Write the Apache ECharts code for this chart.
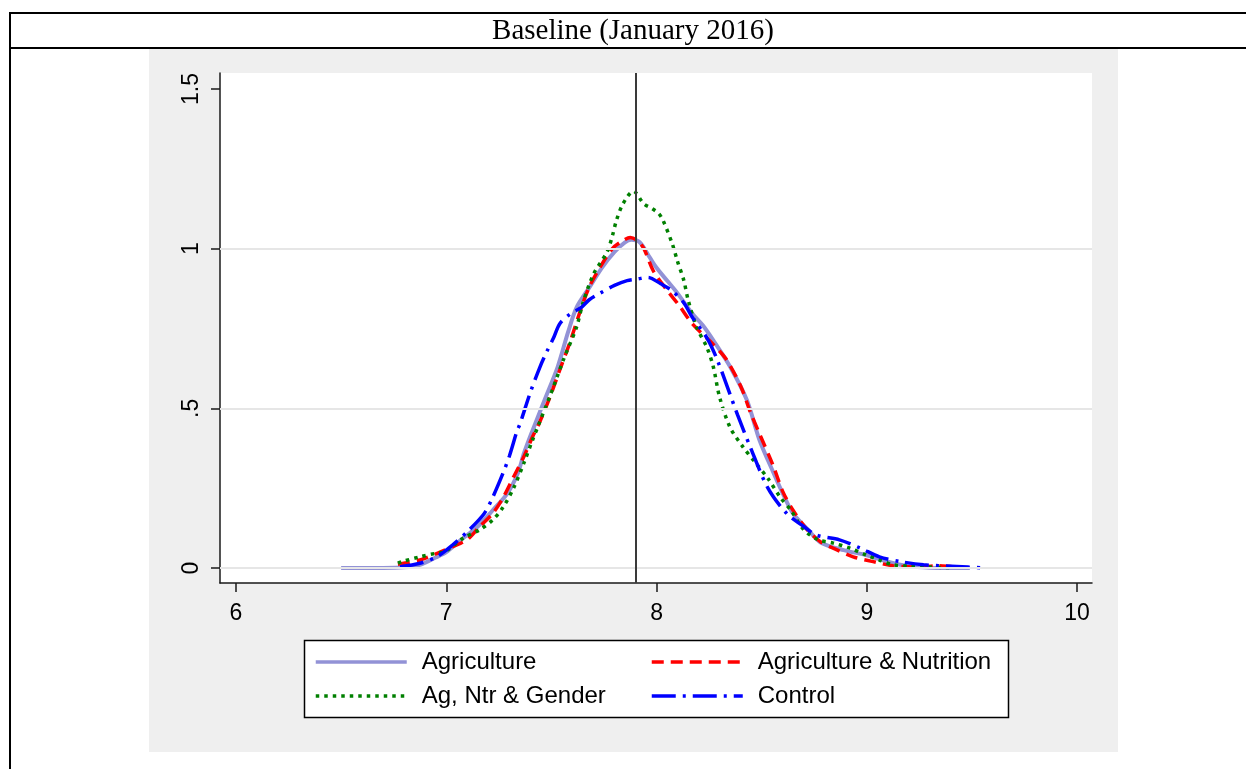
<!DOCTYPE html>
<html>
<head>
<meta charset="utf-8" />
<title>Baseline (January 2016)</title>
<script src="https://cdn.jsdelivr.net/npm/echarts@6/dist/echarts.min.js"></script>
<style>
  html, body { margin: 0; padding: 0; background: #fff; }
  #chart { width: 1246px; height: 769px; }
</style>
</head>
<body>
<div id="chart"></div>
<script>
// kernel densities, [x, density]
const agriculture = [
  [6.5, 0], [6.6, 0], [6.7, 0], [6.8, 0.002], [6.875, 0.01], [6.95, 0.033],
  [7.0, 0.05], [7.07, 0.088], [7.15, 0.13], [7.22, 0.18], [7.29, 0.233],
  [7.34, 0.296], [7.37, 0.36], [7.41, 0.43], [7.47, 0.53], [7.53, 0.63],
  [7.58, 0.74], [7.62, 0.816], [7.68, 0.878], [7.74, 0.94], [7.8, 0.99],
  [7.85, 1.02], [7.88, 1.028], [7.92, 1.02], [7.97, 0.97], [8.0, 0.94],
  [8.05, 0.9], [8.1, 0.86], [8.17, 0.797], [8.22, 0.76], [8.27, 0.713],
  [8.35, 0.63], [8.43, 0.525], [8.49, 0.4], [8.555, 0.3], [8.61, 0.22],
  [8.65, 0.17], [8.72, 0.12], [8.78, 0.08], [8.89, 0.056], [9.0, 0.04],
  [9.1, 0.02], [9.2, 0.005], [9.3, 0.001], [9.49, 0]
];
const agNutrition = [
  [6.77, 0.012], [6.875, 0.025], [6.97, 0.05], [7.07, 0.078], [7.1, 0.088],
  [7.16, 0.13], [7.22, 0.17], [7.27, 0.22], [7.32, 0.285], [7.37, 0.35],
  [7.41, 0.41], [7.44, 0.45], [7.49, 0.53], [7.54, 0.62], [7.59, 0.71],
  [7.64, 0.81], [7.68, 0.88], [7.73, 0.94], [7.79, 1.0], [7.84, 1.025],
  [7.875, 1.035], [7.91, 1.025], [7.94, 1.0], [7.985, 0.93], [8.05, 0.87],
  [8.11, 0.82], [8.17, 0.765], [8.27, 0.7], [8.33, 0.655], [8.4, 0.57],
  [8.445, 0.49], [8.49, 0.42], [8.555, 0.32], [8.6, 0.24], [8.65, 0.18],
  [8.716, 0.12], [8.78, 0.082], [8.84, 0.062], [8.935, 0.035], [9.03, 0.02],
  [9.125, 0.007], [9.25, 0.003], [9.33, 0.007], [9.4, 0.005], [9.45, 0.003]
];
const agNtrGender = [
  [6.77, 0.015], [6.79, 0.02], [6.875, 0.035], [6.95, 0.046], [6.99, 0.05],
  [7.08, 0.093], [7.16, 0.12], [7.22, 0.15], [7.27, 0.19], [7.32, 0.25],
  [7.37, 0.33], [7.41, 0.4], [7.44, 0.45], [7.5, 0.55], [7.556, 0.65],
  [7.62, 0.755], [7.65, 0.83], [7.7, 0.92], [7.765, 0.99], [7.79, 1.04],
  [7.81, 1.09], [7.84, 1.14], [7.89, 1.18], [7.94, 1.14], [7.98, 1.125],
  [8.01, 1.11], [8.03, 1.09], [8.075, 1.015], [8.1, 0.96], [8.13, 0.9],
  [8.15, 0.84], [8.19, 0.755], [8.24, 0.69], [8.27, 0.63], [8.3, 0.535],
  [8.35, 0.44], [8.41, 0.38], [8.47, 0.33], [8.53, 0.28], [8.59, 0.22],
  [8.64, 0.18], [8.7, 0.12], [8.77, 0.088], [8.84, 0.078], [8.92, 0.062],
  [9.0, 0.04], [9.06, 0.025], [9.125, 0.01], [9.2, 0.006], [9.3, 0.003],
  [9.4, 0.001]
];
const control = [
  [6.78, 0.004], [6.875, 0.015], [6.955, 0.035], [7.03, 0.072], [7.11, 0.12],
  [7.18, 0.17], [7.22, 0.22], [7.27, 0.297], [7.3, 0.35], [7.337, 0.43],
  [7.35, 0.45], [7.4, 0.55], [7.446, 0.63], [7.48, 0.68], [7.51, 0.72],
  [7.54, 0.765], [7.59, 0.796], [7.64, 0.815], [7.68, 0.84], [7.73, 0.86],
  [7.8, 0.885], [7.86, 0.9], [7.91, 0.905], [7.96, 0.91], [8.02, 0.89],
  [8.07, 0.87], [8.13, 0.83], [8.17, 0.785], [8.24, 0.72], [8.29, 0.65],
  [8.385, 0.48], [8.445, 0.38], [8.53, 0.25], [8.62, 0.17], [8.7, 0.13],
  [8.76, 0.103], [8.87, 0.088], [8.97, 0.062], [9.06, 0.035], [9.16, 0.02],
  [9.27, 0.01], [9.48, 0.003], [9.56, 0]
];

const seriesNames = ['Agriculture', 'Agriculture & Nutrition', 'Ag, Ntr & Gender', 'Control'];
const xTicks = [6, 7, 8, 9, 10];
const yTicks = [0, 0.5, 1, 1.5];
const yGridLines = [0, 0.5, 1];
const verticalLineX = 7.9;
const titleText = 'Baseline (January 2016)';

const sans = 'Arial, "Liberation Sans", Helvetica, sans-serif';
const axisColor = '#1a1a1a';

const chart = echarts.init(document.getElementById('chart'));

const curve = (name, data, color, type, width) => ({
  name: name,
  type: 'line',
  data: data,
  z: 3,
  symbol: 'none',
  showSymbol: false,
  smooth: 0.3,
  lineStyle: { color: color, width: width, type: type, cap: 'butt' },
  itemStyle: { color: color },
  emphasis: { disabled: true }
});

const legendCol = (names, left) => ({
  data: names,
  orient: 'vertical',
  left: left,
  top: 650,
  padding: 0,
  itemWidth: 91,
  itemHeight: 14,
  itemGap: 10,
  selectedMode: false,
  // hide the marker dot, keep only the line sample
  itemStyle: { opacity: 0, borderWidth: 0 },
  lineStyle: { width: 3.5 },
  textStyle: { fontSize: 24, fontFamily: sans, color: '#000', lineHeight: 24, padding: [0, 0, 0, 10] }
});

const option = {
  animation: false,
  backgroundColor: '#ffffff',
  graphic: [
    // grey outer plot region
    { type: 'rect', z: -1, shape: { x: 149, y: 49, width: 969, height: 703 }, style: { fill: '#efefef' } },
    // table rules round the title
    { type: 'rect', z: 5, shape: { x: 9, y: 12, width: 1237, height: 2 }, style: { fill: '#000' } },
    { type: 'rect', z: 5, shape: { x: 9, y: 47, width: 1237, height: 2 }, style: { fill: '#000' } },
    { type: 'rect', z: 5, shape: { x: 9, y: 12, width: 2, height: 757 }, style: { fill: '#000' } },
    {
      type: 'text', z: 5, x: 633, y: 31,
      style: {
        text: titleText, fill: '#000', fontSize: 29,
        fontFamily: '"Times New Roman", "Liberation Serif", serif',
        align: 'center', verticalAlign: 'middle'
      }
    },
    // legend box
    {
      type: 'rect', z: 1,
      shape: { x: 304.5, y: 640.5, width: 704, height: 77 },
      style: { fill: '#fff', stroke: '#000', lineWidth: 1.5 }
    }
  ],
  grid: {
    left: 220,
    top: 73,
    width: 872,
    height: 510,
    show: true,
    backgroundColor: '#ffffff',
    borderWidth: 0
  },
  legend: [
    legendCol([seriesNames[0], seriesNames[2]], 314),
    legendCol([seriesNames[1], seriesNames[3]], 650)
  ],
  xAxis: {
    type: 'value',
    min: 5.924,
    max: 10.071,
    axisLine: { show: true, onZero: false, lineStyle: { color: axisColor, width: 1.5 } },
    axisTick: { show: true, length: 9, customValues: xTicks, lineStyle: { color: axisColor, width: 1.5 } },
    axisLabel: {
      customValues: xTicks,
      margin: 19,
      fontSize: 23,
      fontFamily: sans,
      color: '#000'
    },
    splitLine: { show: false }
  },
  yAxis: {
    type: 'value',
    min: -0.047,
    max: 1.55,
    axisLine: { show: true, onZero: false, lineStyle: { color: axisColor, width: 1.5 } },
    axisTick: { show: true, length: 9, customValues: yTicks, lineStyle: { color: axisColor, width: 1.5 } },
    axisLabel: {
      customValues: yTicks,
      rotate: 90,
      margin: 17,
      fontSize: 23,
      fontFamily: sans,
      color: '#000',
      formatter: function (v) {
        if (v === 0) return '0';
        if (v < 1) return String(v).replace('0.', '.');
        return String(v);
      }
    },
    splitLine: { show: false }
  },
  series: [
    {
      // helper series: grid lines and the vertical reference line
      name: 'guides',
      type: 'line',
      data: [],
      z: 1,
      silent: true,
      markLine: {
        silent: true,
        symbol: 'none',
        label: { show: false },
        emphasis: { disabled: true },
        data: yGridLines.map(v => ({ yAxis: v, lineStyle: { color: '#e6e6e6', width: 2, type: 'solid' } }))
          .concat([{ xAxis: verticalLineX, lineStyle: { color: '#3a3a3a', width: 2, type: 'solid' } }])
      }
    },
    curve(seriesNames[0], agriculture, '#9292d6', 'solid', 4),
    curve(seriesNames[1], agNutrition, '#ff0000', [12, 7], 3.5),
    curve(seriesNames[2], agNtrGender, '#008000', [3.5, 5], 3.5),
    curve(seriesNames[3], control, '#0000ff', [24, 7, 3, 7], 3.5)
  ]
};

chart.setOption(option);
</script>
</body>
</html>
